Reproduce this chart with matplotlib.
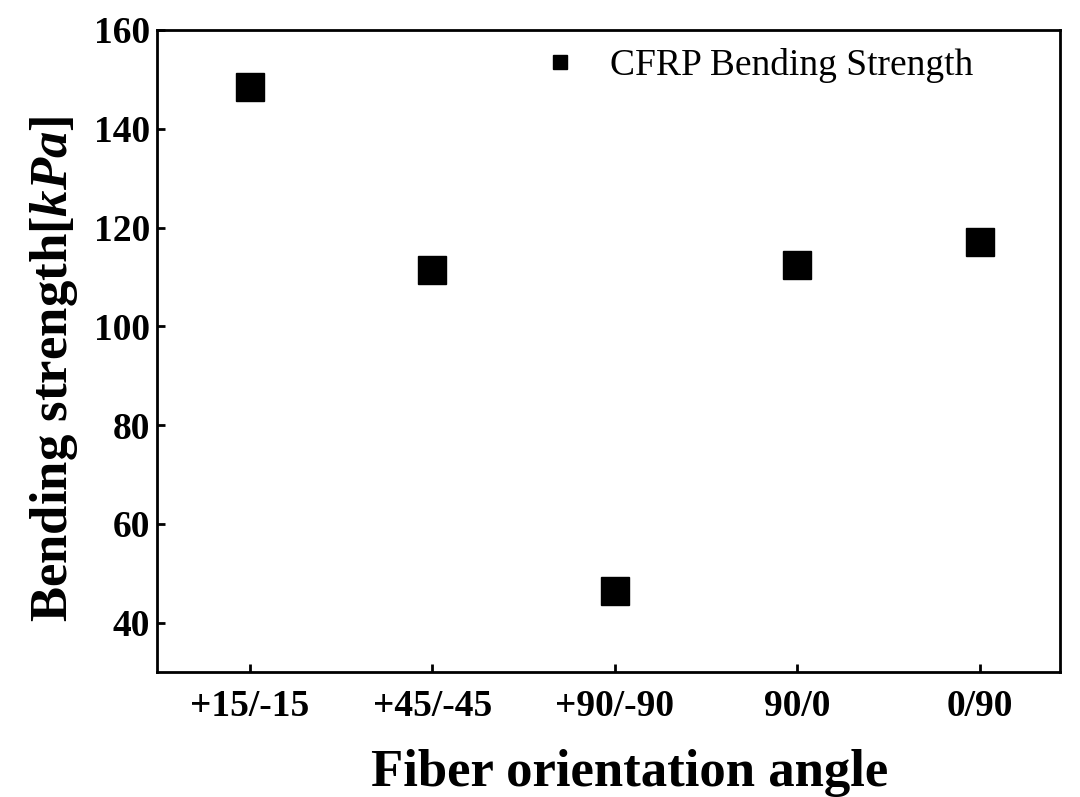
import matplotlib.pyplot as plt
import numpy as np

# Data
angles = ['+15/-15', '+45/-45', '+90/-90', '90/0', '0/90']
strength = [148.5, 111.5, 46.5, 112.5, 117.0]

plt.rcParams['font.family'] = ['Liberation Serif', 'DejaVu Serif']
plt.rcParams['mathtext.fontset'] = 'custom'
plt.rcParams['mathtext.it'] = 'Liberation Serif:italic:bold'
plt.rcParams['mathtext.rm'] = 'Liberation Serif:bold'

fig = plt.figure(figsize=(10.8, 7.97), dpi=100)
ax = fig.add_axes([0.1454, 0.1568, 0.8361, 0.8056])

x = np.arange(len(angles))
ax.plot(x, strength, 's', color='black', markersize=20,
        label='CFRP Bending Strength')

ax.set_xlim(-0.51, 4.44)
ax.set_ylim(30, 160)
ax.set_yticks(np.arange(40, 161, 20))
ax.set_xticks(x)
ax.set_xticklabels(angles)

for s in ax.spines.values():
    s.set_linewidth(2)
ax.tick_params(direction='in', length=6, width=2, labelsize=27)
ax.tick_params(axis='x', pad=12)
ax.tick_params(axis='y', pad=5)
for lab in ax.get_xticklabels() + ax.get_yticklabels():
    lab.set_fontweight('bold')

ax.set_xlabel('Fiber orientation angle', fontsize=38, fontweight='bold', labelpad=18)
ax.set_ylabel('Bending strength[$kPa$]', fontsize=38, fontweight='bold', labelpad=10)
# labels sit a bit off-centre in the original
ax.xaxis.label.set_x(0.523)
ax.yaxis.label.set_y(0.473)

leg = ax.legend(loc='center right', bbox_to_anchor=(0.9037, 0.944),
                frameon=False, fontsize=27, markerscale=0.47,
                handlelength=1.0, handletextpad=0.83,
                borderpad=0, borderaxespad=0)

fig.savefig('out.png', dpi=100)
